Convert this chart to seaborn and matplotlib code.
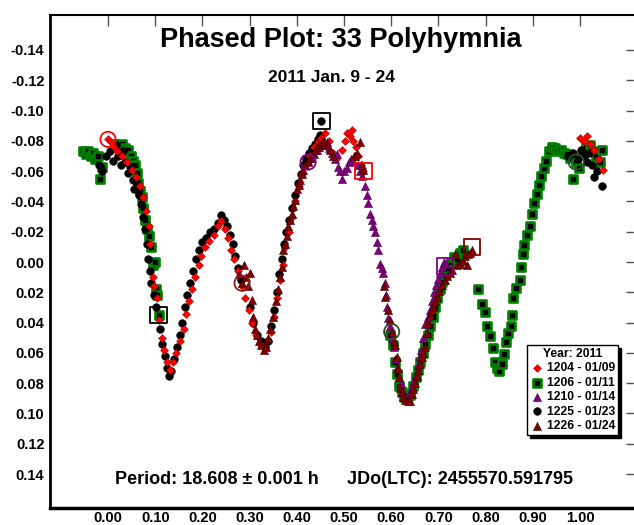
import matplotlib
matplotlib.use("Agg")
import matplotlib.pyplot as plt
import seaborn as sns
import pandas as pd

sns.set_style("white")
plt.rcParams["font.family"] = ["Liberation Sans", "DejaVu Sans"]
plt.rcParams["text.color"] = "black"
plt.rcParams["xtick.color"] = "black"
plt.rcParams["ytick.color"] = "black"
plt.rcParams["axes.labelcolor"] = "black"

# ---------------- data (phase, magnitude) ----------------
red_1204_phase = [0.000, 0.006, 0.012, 0.020, 0.030, 0.040, 0.050, 0.060, 0.068, 0.075, 0.081, 0.086, 0.090,
                  0.095, 0.098, 0.103, 0.109, 0.114, 0.119, 0.125, 0.131,
                  0.138, 0.145, 0.152, 0.160, 0.166, 0.172, 0.178, 0.185, 0.192, 0.198, 0.206, 0.215, 0.224,
                  0.232, 0.240, 0.247,
                  0.254, 0.261, 0.268, 0.275, 0.283, 0.291, 0.298, 0.306, 0.314, 0.322,
                  0.345, 0.352, 0.358, 0.364, 0.370, 0.376, 0.383, 0.390, 0.397, 0.404, 0.412, 0.420, 0.428,
                  0.436, 0.444, 0.452, 0.460, 0.468, 0.476, 0.484, 0.496, 0.503, 0.507, 0.512, 0.516, 0.520,
                  0.525, 0.530, 0.537, 0.541,
                  1.000, 1.008, 1.014, 1.022, 1.030, 1.040, 1.049]
red_1204_mag = [-0.081, -0.079, -0.076, -0.073, -0.070, -0.066, -0.061, -0.056, -0.050, -0.043, -0.034, -0.024, -0.012,
                0.010, 0.016, 0.024, 0.038, 0.050, 0.058, 0.066, 0.071,
                0.066, 0.060, 0.052, 0.044, 0.034, 0.026, 0.018, 0.010, 0.002, -0.004, -0.010, -0.014, -0.018,
                -0.024, -0.027, -0.022,
                -0.016, -0.008, -0.002, 0.006, 0.016, 0.024, 0.032, 0.040, 0.048, 0.054,
                0.046, 0.036, 0.024, 0.012, 0.002, -0.010, -0.020, -0.030, -0.040, -0.050, -0.058, -0.064, -0.070,
                -0.076, -0.079, -0.082, -0.085, -0.080, -0.072, -0.068, -0.074, -0.080, -0.085, -0.083, -0.087, -0.080,
                -0.076, -0.070, -0.064, -0.060,
                -0.082, -0.080, -0.083, -0.078, -0.074, -0.068, -0.061]

green_1206_phase = [-0.052, -0.047, -0.042, -0.037, -0.032, -0.027, -0.022, -0.017, -0.012,
                    0.015, 0.022, 0.030, 0.036, 0.042, 0.048, 0.053, 0.057, 0.061, 0.064, 0.068, 0.072, 0.074,
                    0.078, 0.082, 0.086, 0.091, 0.095, 0.100, 0.102, 0.104, 0.107,
                    0.598, 0.604, 0.608, 0.612, 0.617, 0.622, 0.628, 0.634, 0.640, 0.646, 0.652, 0.657, 0.662,
                    0.667, 0.672, 0.677, 0.682, 0.688, 0.693, 0.698, 0.703, 0.708, 0.714, 0.720, 0.726, 0.733,
                    0.740, 0.746, 0.752,
                    0.784, 0.792, 0.799, 0.802, 0.809, 0.815, 0.820, 0.824, 0.829, 0.834, 0.839, 0.843, 0.848,
                    0.853, 0.855, 0.858, 0.865, 0.873, 0.874, 0.879, 0.882, 0.888, 0.894, 0.898, 0.903, 0.908,
                    0.913, 0.918, 0.923, 0.928, 0.934, 0.940, 0.947, 0.953, 0.960, 0.966, 0.972, 0.978, 0.985,
                    0.992, 0.998, 1.006, 1.013, 1.021, 1.028, 1.034, 1.042, 1.047]
green_1206_mag = [-0.073, -0.071, -0.073, -0.070, -0.072, -0.068, -0.070, -0.055, -0.063,
                  -0.078, -0.076, -0.078, -0.075, -0.074, -0.070, -0.067, -0.064, -0.059, -0.052, -0.047, -0.043, -0.036,
                  -0.028, -0.022, -0.017, -0.010, 0.002, 0.000, 0.018, 0.022, 0.035,
                  0.048, 0.055, 0.066, 0.074, 0.082, 0.086, 0.089, 0.090, 0.088, 0.082, 0.076, 0.071, 0.066,
                  0.060, 0.054, 0.048, 0.042, 0.036, 0.030, 0.024, 0.018, 0.013, 0.008, 0.004, 0.000, -0.003,
                  -0.002, -0.006, -0.008,
                  0.018, 0.028, 0.033, 0.042, 0.049, 0.057, 0.066, 0.070, 0.072, 0.067, 0.061, 0.053, 0.047,
                  0.042, 0.035, 0.024, 0.017, 0.012, 0.003, -0.005, -0.011, -0.018, -0.024, -0.032, -0.039, -0.045,
                  -0.051, -0.057, -0.062, -0.067, -0.073, -0.076, -0.075, -0.073, -0.074, -0.072, -0.071, -0.069, -0.055,
                  -0.066, -0.062, -0.072, -0.076, -0.077, -0.073, -0.070, -0.066, -0.074]

purple_1210_phase = [0.424, 0.430, 0.436, 0.442, 0.448, 0.454, 0.459, 0.464, 0.469, 0.474, 0.480, 0.485, 0.487,
                     0.491, 0.495, 0.500, 0.506, 0.510, 0.515, 0.519, 0.524, 0.530, 0.534, 0.538, 0.544, 0.548,
                     0.551, 0.555, 0.559, 0.562, 0.566, 0.569, 0.573, 0.576, 0.580, 0.583, 0.587, 0.589, 0.591,
                     0.594, 0.598, 0.602, 0.605, 0.608, 0.612, 0.616, 0.620, 0.625, 0.630, 0.635, 0.640, 0.644,
                     0.648, 0.652, 0.656, 0.660, 0.664, 0.668, 0.672, 0.677, 0.682, 0.686, 0.690, 0.694, 0.699,
                     0.703, 0.707, 0.711, 0.716]
purple_1210_mag = [-0.066, -0.069, -0.071, -0.074, -0.076, -0.077, -0.078, -0.079, -0.075, -0.072, -0.068, -0.071, -0.063,
                   -0.060, -0.055, -0.060, -0.062, -0.066, -0.068, -0.067, -0.070, -0.064, -0.060, -0.057, -0.050, -0.044,
                   -0.039, -0.032, -0.028, -0.024, -0.020, -0.013, -0.008, 0.001, 0.004, 0.007, 0.014, 0.022, 0.030,
                   0.037, 0.042, 0.050, 0.056, 0.064, 0.070, 0.076, 0.080, 0.086, 0.089, 0.090, 0.086, 0.082,
                   0.078, 0.074, 0.068, 0.062, 0.058, 0.050, 0.041, 0.036, 0.032, 0.026, 0.020, 0.015, 0.011,
                   0.007, 0.003, 0.000, 0.001]

black_1225_phase = [-0.020, -0.012, -0.005, 0.004, 0.010, 0.016, 0.022, 0.027, 0.032, 0.037, 0.042, 0.047, 0.052,
                    0.056, 0.061, 0.066, 0.070, 0.074, 0.078, 0.082, 0.085, 0.088, 0.092, 0.097, 0.102, 0.110,
                    0.115, 0.120, 0.125, 0.129,
                    0.134, 0.140, 0.146, 0.152, 0.157, 0.163, 0.168, 0.174, 0.180, 0.186, 0.193, 0.200, 0.208,
                    0.216, 0.224, 0.232, 0.240, 0.246, 0.252,
                    0.258, 0.264, 0.270, 0.276, 0.282, 0.300, 0.308, 0.316, 0.324, 0.332, 0.338,
                    0.346, 0.352, 0.358, 0.363, 0.368, 0.373, 0.378, 0.384, 0.390, 0.396, 0.402, 0.408, 0.414,
                    0.420, 0.426, 0.432, 0.438, 0.444, 0.450, 0.452,
                    0.975, 0.985, 0.995, 1.002, 1.008, 1.014, 1.020, 1.026, 1.030, 1.036, 1.046]
black_1225_mag = [-0.064, -0.060, -0.070, -0.073, -0.067, -0.077, -0.070, -0.064, -0.073, -0.066, -0.059, -0.063, -0.054,
                  -0.048, -0.052, -0.044, -0.038, -0.030, -0.022, -0.012, -0.002, 0.006, 0.014, 0.022, 0.030, 0.044,
                  0.054, 0.062, 0.070, 0.075,
                  0.072, 0.064, 0.056, 0.048, 0.040, 0.030, 0.022, 0.014, 0.006, -0.002, -0.008, -0.013, -0.016,
                  -0.020, -0.022, -0.026, -0.031, -0.028, -0.024,
                  -0.018, -0.012, -0.004, 0.004, 0.012, 0.030, 0.040, 0.048, 0.052, 0.056, 0.052,
                  0.042, 0.032, 0.020, 0.008, -0.002, -0.012, -0.020, -0.028, -0.036, -0.044, -0.052, -0.058, -0.064,
                  -0.068, -0.072, -0.075, -0.078, -0.081, -0.084, -0.093,
                  -0.070, -0.072, -0.068, -0.074, -0.070, -0.066, -0.072, -0.064, -0.056, -0.060, -0.050]

maroon_1226_phase = [0.278, 0.284, 0.288, 0.292, 0.296, 0.301, 0.305, 0.307, 0.311, 0.315, 0.320, 0.325, 0.330,
                     0.335, 0.339, 0.344, 0.350, 0.355, 0.360, 0.364, 0.368, 0.371, 0.375, 0.379, 0.381, 0.386,
                     0.390, 0.393, 0.396, 0.400, 0.404, 0.407, 0.410, 0.413, 0.418, 0.424, 0.429, 0.434, 0.438,
                     0.442, 0.447, 0.453, 0.458, 0.464, 0.470, 0.476, 0.522, 0.527, 0.534, 0.538, 0.541,
                     0.584, 0.587, 0.594, 0.597, 0.601, 0.605, 0.608, 0.612, 0.614, 0.616, 0.619, 0.622, 0.625,
                     0.630, 0.635, 0.640, 0.644, 0.647, 0.650, 0.654, 0.657, 0.661, 0.665, 0.668, 0.672, 0.676,
                     0.678, 0.682, 0.686, 0.689, 0.693, 0.697, 0.702, 0.708, 0.713, 0.718, 0.724, 0.729, 0.735,
                     0.740, 0.746, 0.752, 0.756, 0.760, 0.763, 0.767, 0.771]
maroon_1226_mag = [0.008, 0.014, 0.002, 0.010, 0.016, 0.007, 0.025, 0.036, 0.044, 0.048, 0.052, 0.055, 0.058,
                   0.056, 0.050, 0.044, 0.036, 0.026, 0.018, 0.010, 0.003, -0.008, -0.012, -0.017, -0.024, -0.028,
                   -0.032, -0.037, -0.041, -0.048, -0.051, -0.054, -0.058, -0.061, -0.064, -0.067, -0.069, -0.072, -0.074,
                   -0.076, -0.078, -0.079, -0.080, -0.077, -0.074, -0.070, -0.070, -0.072, -0.079, -0.064, -0.061,
                   0.016, 0.023, 0.032, 0.038, 0.046, 0.052, 0.055, 0.063, 0.070, 0.076, 0.083, 0.086, 0.089,
                   0.091, 0.092, 0.092, 0.087, 0.084, 0.080, 0.075, 0.071, 0.067, 0.063, 0.060, 0.056, 0.047,
                   0.040, 0.035, 0.032, 0.030, 0.026, 0.023, 0.019, 0.015, 0.012, 0.009, 0.007, 0.005, -0.005,
                   0.002, 0.001, -0.001, -0.004, 0.002, -0.005, -0.006, -0.008]

# session start/end highlight marks
circle_phase = [0.000, 0.284, 0.424, 0.601, 0.992]
circle_mag = [-0.081, 0.014, -0.066, 0.046, -0.066]
circle_color = ["#ff0000", "#8b1a1a", "#800080", "#2f4f2f", "#2f4f2f"]
square_phase = [0.107, 0.452, 0.541, 0.714, 0.771]
square_mag = [0.035, -0.093, -0.060, 0.003, -0.010]
square_color = ["#000000", "#000000", "#ff0000", "#800080", "#800000"]

x_ticks = [0.0, 0.1, 0.2, 0.3, 0.4, 0.5, 0.6, 0.7, 0.8, 0.9, 1.0]
y_ticks = [-0.14, -0.12, -0.10, -0.08, -0.06, -0.04, -0.02, 0.00, 0.02, 0.04, 0.06, 0.08, 0.10, 0.12, 0.14]

sessions = [
    ("1206 - 01/11", green_1206_phase, green_1206_mag,
     dict(marker="s", s=26, color="black", edgecolor="#008000", linewidth=1.9)),
    ("1225 - 01/23", black_1225_phase, black_1225_mag,
     dict(marker="o", s=32, color="black", edgecolor="black", linewidth=0.3)),
    ("1204 - 01/09", red_1204_phase, red_1204_mag,
     dict(marker="D", s=16, color="#ff0000", edgecolor="#b00000", linewidth=0.4)),
    ("1210 - 01/14", purple_1210_phase, purple_1210_mag,
     dict(marker="^", s=34, color="#800080", edgecolor="#4a004a", linewidth=0.4)),
    ("1226 - 01/24", maroon_1226_phase, maroon_1226_mag,
     dict(marker="^", s=34, color="#800000", edgecolor="#3a0000", linewidth=0.4)),
]

fig = plt.figure(figsize=(6.34, 5.25), dpi=100)
ax = fig.add_axes([50 / 634, 17 / 525, 587 / 634, 493 / 525])

handles = {}
for label, ph, mg, kw in sessions:
    df = pd.DataFrame({"phase": ph, "mag": mg})
    sns.scatterplot(data=df, x="phase", y="mag", ax=ax, label=label, legend=False, **kw)
    handles[label] = ax.collections[-1]

ax.scatter(circle_phase, circle_mag, s=120, facecolors="none", edgecolors=circle_color, linewidths=1.3, zorder=5)
ax.scatter(square_phase, square_mag, marker="s", s=140, facecolors="none", edgecolors=square_color,
           linewidths=1.3, zorder=5)

ax.set_xlim(-0.1229, 1.1208)
ax.set_ylim(0.1624, -0.1631)
ax.set_xticks(x_ticks)
ax.set_yticks(y_ticks)
ax.set_xticklabels([f"{v:.2f}" for v in x_ticks])
ax.set_yticklabels([f"{v:.2f}" if abs(v) > 1e-9 else "0.00" for v in y_ticks])
ax.set_xlabel("")
ax.set_ylabel("")
ax.tick_params(direction="in", length=8, width=1, color="#555555", labelcolor="black", top=True, right=True,
               labelsize=10.5)
ax.tick_params(axis="x", pad=2.5)
ax.tick_params(axis="y", pad=4)
for t in ax.get_xticklabels() + ax.get_yticklabels():
    t.set_fontweight("bold")
for side, lw in (("left", 2.0), ("bottom", 2.5), ("top", 1.5), ("right", 1.0)):
    ax.spines[side].set_visible(True)
    ax.spines[side].set_color("black")
    ax.spines[side].set_linewidth(lw)

order = ["1204 - 01/09", "1206 - 01/11", "1210 - 01/14", "1225 - 01/23", "1226 - 01/24"]
leg = ax.legend([handles[k] for k in order], order, loc="lower right", bbox_to_anchor=(0.968, 0.148),
                borderaxespad=0, frameon=True, fancybox=False, shadow={"color": "black", "alpha": 1},
                edgecolor="black", framealpha=1, title="Year: 2011",
                prop={"weight": "bold", "size": 8.7},
                title_fontproperties={"weight": "bold", "size": 8.7},
                handletextpad=0.2, borderpad=0.25, labelspacing=0.2, handlelength=1.2, scatterpoints=1)
leg.get_frame().set_linewidth(1.0)

fig.text(0.538, 0.924, "Phased Plot: 33 Polyhymnia", ha="center", va="center", fontsize=19.5, fontweight="bold")
fig.text(0.522, 0.852, "2011 Jan. 9 - 24", ha="center", va="center", fontsize=12.5, fontweight="bold")
fig.text(0.181, 0.086, "Period: 18.608 \u00b1 0.001 h", ha="left", va="center", fontsize=13, fontweight="bold")
fig.text(0.547, 0.086, "JDo(LTC): 2455570.591795", ha="left", va="center", fontsize=13, fontweight="bold")

fig.savefig("out.png", dpi=100)
